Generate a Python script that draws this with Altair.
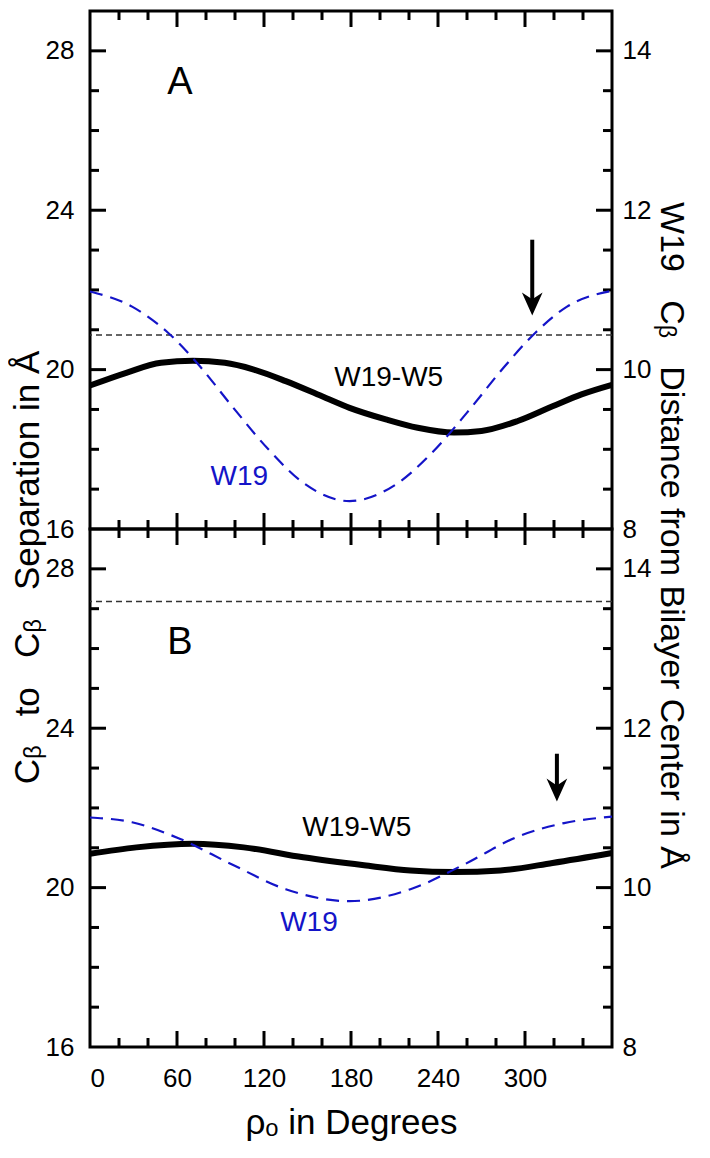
import altair as alt
import pandas as pd

# ---------------- data ----------------
# Panel A
a_deg_pair = [0, 25, 49, 71, 93, 113, 135, 160, 179, 204, 226, 251, 270, 295, 319, 339, 360]
a_sep_pair = [19.6, 19.92, 20.17, 20.22, 20.17, 20.0, 19.71, 19.33, 19.04, 18.75, 18.54, 18.42, 18.46, 18.71, 19.08, 19.38, 19.62]
a_deg_w19 = [0, 29, 54, 74, 98, 123, 147, 179, 211, 236, 260, 285, 307, 329, 360]
a_dist_w19 = [10.98, 10.79, 10.46, 10.08, 9.54, 9.0, 8.58, 8.35, 8.56, 8.96, 9.46, 10.02, 10.46, 10.79, 10.99]
a_threshold = 20.87
a_arrow = {"deg": 305, "top": 23.26, "tip": 21.36}

# Panel B
b_deg_pair = [0, 32, 71, 106, 147, 189, 221, 251, 283, 319, 360]
b_sep_pair = [20.85, 21.01, 21.10, 21.01, 20.76, 20.56, 20.43, 20.39, 20.43, 20.62, 20.87]
b_deg_w19 = [0, 29, 61, 98, 135, 179, 221, 258, 295, 327, 360]
b_dist_w19 = [10.88, 10.82, 10.62, 10.29, 9.98, 9.83, 9.98, 10.29, 10.64, 10.81, 10.89]
b_threshold = 27.18
b_arrow = {"deg": 322, "top": 23.36, "tip": 22.16}

# text labels: (text, deg, left-axis value, colour, size)
a_labels = [("A", 62, 27.2, "black", 38), ("W19-W5", 206, 19.8, "black", 28), ("W19", 103, 17.3, "#1414c8", 28)]
b_labels = [("B", 62, 26.15, "black", 38), ("W19-W5", 184, 21.5, "black", 28), ("W19", 151, 19.1, "#1414c8", 28)]

# axis ticks / labels
x_label_vals = [0, 60, 120, 180, 240, 300]
x_major = [60, 120, 180, 240, 300]
x_minor = [20, 40, 80, 100, 140, 160, 200, 220, 260, 280, 320, 340]
yl_label_vals = [16, 20, 24, 28]
yr_label_vals = [8, 10, 12, 14]
yl_major = [20, 24, 28]
yl_minor = [17, 18, 19, 21, 22, 23, 25, 26, 27]

GAP = "\u00a0\u00a0\u00a0"
LEFT_TITLE = "C\u1d66" + GAP + "to" + GAP + "C\u1d66" + GAP + "Separation in \u00c5"
RIGHT_TITLE = "W19" + GAP + "C\u1d66" + GAP + "Distance from Bilayer Center in \u00c5"
X_TITLE = "\u03c1\u2092 in Degrees"

# ---------------- layout / style ----------------
W, H = 522, 518
FONT = "Liberation Sans"
BLUE = "#1414c8"
MAJ, MIN, TW = 16, 9, 3
LBL, TTL = 26, 35

x_scale = alt.Scale(domain=[0, 360], nice=False, zero=False)
yl_scale = alt.Scale(domain=[16, 29], nice=False, zero=False)
yr_scale = alt.Scale(domain=[8, 14.5], nice=False, zero=False)


def X(field, top):
    if top:
        return alt.X(field, scale=x_scale, axis=None)
    return alt.X(field, scale=x_scale)


def YL(field):
    return alt.Y(field, scale=yl_scale)


def tick_layers(vals, length, axis_dir, top):
    df = pd.DataFrame({"t": vals})
    base = alt.Chart(df).mark_rule(color="black", strokeWidth=TW)
    if axis_dir == "y":
        return [
            base.encode(y=YL("t:Q"), x=alt.value(0), x2=alt.value(length)),
            base.encode(y=YL("t:Q"), x=alt.value(W - length), x2=alt.value(W)),
        ]
    return [
        base.encode(x=X("t:Q", top), y=alt.value(0), y2=alt.value(length)),
        base.encode(x=X("t:Q", top), y=alt.value(H - length), y2=alt.value(H)),
    ]


def panel(deg_pair, sep_pair, deg_w19, dist_w19, thr, arrow, labels, top):
    pair_df = pd.DataFrame({"deg": deg_pair, "v": sep_pair})
    w19_df = pd.DataFrame({"deg": deg_w19, "d": dist_w19})

    if top:
        x_main = alt.X("deg:Q", scale=x_scale, axis=None)
    else:
        x_main = alt.X("deg:Q", scale=x_scale, axis=alt.Axis(
            values=x_label_vals, labelFontSize=LBL, labelPadding=18, ticks=False,
            domain=False, grid=False, title=X_TITLE, titleFontSize=TTL,
            titlePadding=14, titleFontWeight="normal"))
    yl_kw = dict(values=yl_label_vals, labelFontSize=LBL, labelPadding=16, ticks=False,
                 domain=False, grid=False, orient="left")
    yr_kw = dict(values=yr_label_vals, labelFontSize=LBL, labelPadding=10, ticks=False,
                 domain=False, grid=False, orient="right", format="d")
    if top:
        yl_kw.update(title=LEFT_TITLE, titleFontSize=TTL, titleY=H + 38, titlePadding=0,
                     titleFontWeight="normal")
        yr_kw.update(title=RIGHT_TITLE, titleFontSize=34, titleY=H + 6, titlePadding=3,
                     titleFontWeight="normal")
    else:
        yl_kw.update(title="")
        yr_kw.update(title="")

    black = alt.Chart(pair_df).mark_line(color="black", strokeWidth=6, interpolate="monotone").encode(
        x=x_main,
        y=alt.Y("v:Q", scale=yl_scale, axis=alt.Axis(**yl_kw)),
    )
    thr_rule = alt.Chart(pd.DataFrame({"v": [thr]})).mark_rule(
        color="#333333", strokeWidth=1.5, strokeDash=[6, 4]).encode(y=YL("v:Q"))
    arr_df = pd.DataFrame({"deg": [arrow["deg"]], "top": [arrow["top"]], "tip": [arrow["tip"]]})
    shaft = alt.Chart(arr_df).mark_rule(color="black", strokeWidth=4).transform_calculate(
        base="datum.tip + 0.3").encode(
        x=X("deg:Q", top), y=YL("top:Q"), y2="base:Q")
    head = alt.Chart(arr_df).mark_point(
        shape="M0,0L-0.45,-1L0,-0.7L0.45,-1Z", filled=True, size=2116, color="black", opacity=1,
        strokeWidth=0).encode(x=X("deg:Q", top), y=YL("tip:Q"))
    texts = []
    for (t, xd, yv, col, fs) in labels:
        texts.append(alt.Chart(pd.DataFrame({"deg": [xd], "v": [yv], "t": [t]})).mark_text(
            color=col, fontSize=fs, font=FONT, align="center", baseline="middle").encode(
            x=X("deg:Q", top), y=YL("v:Q"), text="t:N"))
    ticks = (tick_layers(yl_major, MAJ, "y", top) + tick_layers(yl_minor, MIN, "y", top)
             + tick_layers(x_major, MAJ, "x", top) + tick_layers(x_minor, MIN, "x", top))
    left_group = alt.layer(black, thr_rule, shaft, head, *texts, *ticks)

    blue = alt.Chart(w19_df).mark_line(color=BLUE, strokeWidth=2.2, strokeDash=[13, 8],
                                       interpolate="monotone").encode(
        x=X("deg:Q", top),
        y=alt.Y("d:Q", scale=yr_scale, axis=alt.Axis(**yr_kw)),
    )
    right_group = alt.layer(blue)
    return alt.layer(left_group, right_group).resolve_scale(y="independent").properties(width=W, height=H)


pA = panel(a_deg_pair, a_sep_pair, a_deg_w19, a_dist_w19, a_threshold, a_arrow, a_labels, True)
pB = panel(b_deg_pair, b_sep_pair, b_deg_w19, b_dist_w19, b_threshold, b_arrow, b_labels, False)

chart = alt.vconcat(pA, pB, spacing=0, bounds="flush").properties(
    padding={"left": 0, "top": 0, "right": 8, "bottom": 0}
).configure_view(stroke="black", strokeWidth=3).configure_axis(
    labelFont=FONT, titleFont=FONT, labelColor="black", titleColor="black"
).configure_text(font=FONT)

chart.save("out.html", embed_options={"renderer": "svg", "actions": False})
